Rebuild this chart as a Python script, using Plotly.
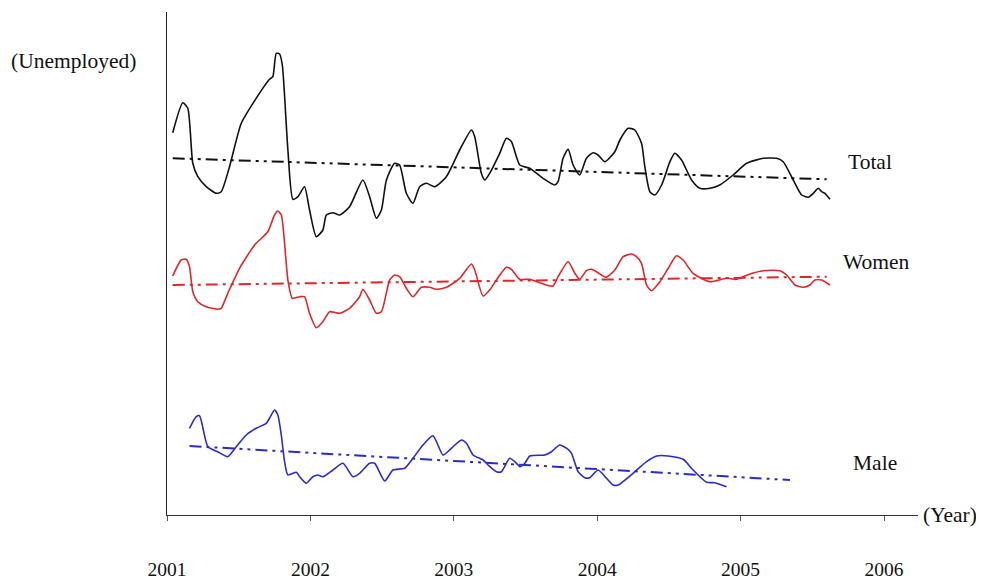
import plotly.graph_objects as go

# ---------------- data ----------------
total_x = [2001.040, 2001.110, 2001.145, 2001.180, 2001.215, 2001.274, 2001.343, 2001.378,
           2001.436, 2001.518, 2001.622, 2001.715, 2001.738, 2001.762, 2001.785, 2001.804,
           2001.843, 2001.878, 2001.913, 2001.959, 2001.994, 2002.041, 2002.087, 2002.111,
           2002.157, 2002.204, 2002.273, 2002.366, 2002.413, 2002.460, 2002.495, 2002.530,
           2002.587, 2002.622, 2002.669, 2002.715, 2002.762, 2002.809, 2002.867, 2002.948,
           2003.041, 2003.123, 2003.146, 2003.192, 2003.216, 2003.250, 2003.320, 2003.367,
           2003.402, 2003.460, 2003.530, 2003.622, 2003.704, 2003.727, 2003.762, 2003.797,
           2003.832, 2003.878, 2003.925, 2003.971, 2004.006, 2004.053, 2004.123, 2004.158,
           2004.216, 2004.262, 2004.309, 2004.332, 2004.367, 2004.402, 2004.449, 2004.507,
           2004.541, 2004.588, 2004.658, 2004.716, 2004.786, 2004.855, 2004.948, 2005.042,
           2005.158, 2005.251, 2005.297, 2005.367, 2005.426, 2005.472, 2005.507, 2005.541,
           2005.565, 2005.588, 2005.623]
total_y = [382.3, 412.3, 406.7, 351.7, 338.3, 328.3, 321.7, 323.3,
           348.3, 391.7, 416.7, 435.7, 438.3, 461.7, 461.0, 450.0,
           365.0, 315.7, 318.3, 328.3, 305.0, 278.3, 285.0, 300.0,
           302.3, 300.0, 308.3, 335.0, 318.3, 296.7, 305.0, 335.0,
           351.7, 350.0, 321.7, 311.7, 328.3, 331.7, 328.3, 338.3,
           365.0, 385.0, 378.3, 341.7, 335.0, 341.7, 361.7, 376.7,
           373.3, 350.0, 346.7, 336.7, 330.0, 333.3, 356.7, 365.7,
           350.0, 340.0, 356.7, 362.3, 360.0, 353.3, 363.3, 375.0,
           386.7, 385.0, 371.7, 348.3, 323.3, 320.0, 330.0, 353.3,
           361.7, 355.0, 335.0, 326.7, 326.7, 330.0, 340.0, 351.7,
           356.7, 356.7, 353.3, 335.0, 320.0, 317.7, 321.7, 326.7,
           323.3, 321.7, 315.7]

women_x = [2001.040, 2001.099, 2001.134, 2001.157, 2001.180, 2001.215, 2001.274, 2001.354,
           2001.378, 2001.424, 2001.506, 2001.611, 2001.703, 2001.750, 2001.773, 2001.797,
           2001.843, 2001.874, 2001.925, 2001.959, 2001.994, 2002.041, 2002.087, 2002.134,
           2002.204, 2002.273, 2002.343, 2002.366, 2002.413, 2002.460, 2002.495, 2002.553,
           2002.587, 2002.622, 2002.669, 2002.715, 2002.774, 2002.832, 2002.878, 2002.948,
           2003.041, 2003.123, 2003.146, 2003.204, 2003.250, 2003.297, 2003.367, 2003.402,
           2003.460, 2003.530, 2003.611, 2003.692, 2003.727, 2003.797, 2003.844, 2003.878,
           2003.925, 2003.960, 2004.006, 2004.060, 2004.123, 2004.181, 2004.239, 2004.274,
           2004.309, 2004.344, 2004.379, 2004.437, 2004.495, 2004.553, 2004.599, 2004.669,
           2004.786, 2004.902, 2004.972, 2005.065, 2005.158, 2005.274, 2005.321, 2005.379,
           2005.437, 2005.483, 2005.518, 2005.565, 2005.623]
women_y = [239.0, 255.0, 255.7, 248.3, 223.3, 213.3, 208.3, 205.7,
           206.7, 221.7, 246.7, 270.0, 283.3, 300.0, 304.0, 300.0,
           235.0, 216.7, 218.3, 218.3, 201.7, 187.3, 193.3, 203.3,
           201.7, 206.7, 218.3, 225.7, 215.0, 201.7, 203.3, 235.0,
           240.0, 238.3, 226.7, 218.3, 227.7, 227.7, 225.7, 227.7,
           236.7, 251.0, 245.0, 219.0, 225.0, 235.0, 247.7, 245.7,
           235.7, 235.7, 231.7, 229.0, 238.3, 253.3, 241.7, 235.7,
           244.3, 245.7, 242.3, 237.7, 245.0, 258.3, 261.0, 258.3,
           251.7, 230.0, 224.3, 233.3, 246.7, 259.3, 255.0, 241.7,
           233.3, 236.7, 235.7, 241.0, 244.3, 244.3, 240.0, 230.0,
           227.7, 230.0, 235.0, 235.0, 230.0]

male_x = [2001.157, 2001.204, 2001.227, 2001.285, 2001.354, 2001.424, 2001.483, 2001.553,
          2001.622, 2001.692, 2001.715, 2001.750, 2001.773, 2001.797, 2001.820, 2001.843,
          2001.902, 2001.925, 2001.971, 2002.017, 2002.052, 2002.087, 2002.157, 2002.227,
          2002.297, 2002.343, 2002.413, 2002.448, 2002.518, 2002.576, 2002.657, 2002.715,
          2002.785, 2002.855, 2002.925, 2002.983, 2003.053, 2003.088, 2003.134, 2003.204,
          2003.239, 2003.297, 2003.332, 2003.390, 2003.437, 2003.460, 2003.495, 2003.530,
          2003.634, 2003.681, 2003.739, 2003.797, 2003.821, 2003.867, 2003.913, 2003.948,
          2004.006, 2004.065, 2004.111, 2004.146, 2004.250, 2004.344, 2004.414, 2004.495,
          2004.599, 2004.669, 2004.763, 2004.820, 2004.902]
male_y = [86.7, 98.3, 99.3, 68.3, 63.3, 58.3, 68.3, 80.0,
          86.7, 91.7, 96.7, 105.0, 100.0, 80.0, 53.3, 40.0,
          42.7, 38.3, 31.7, 38.3, 40.0, 38.3, 45.0, 51.7,
          38.3, 41.7, 51.7, 51.7, 34.0, 45.0, 46.7, 56.7,
          70.0, 79.3, 60.0, 66.7, 75.0, 71.7, 60.0, 55.0,
          50.0, 43.3, 43.3, 56.7, 51.7, 48.3, 51.7, 59.0,
          60.0, 63.3, 70.0, 65.7, 61.7, 43.3, 37.3, 37.3,
          45.0, 36.7, 30.0, 30.0, 41.7, 53.3, 59.0, 59.0,
          55.7, 45.0, 32.7, 32.3, 28.3]

# linear trend lines (start / end)
total_trend_x = [2001.040, 2005.600]
total_trend_y = [356.7, 335.7]
women_trend_x = [2001.040, 2005.600]
women_trend_y = [230.0, 238.3]
male_trend_x = [2001.157, 2005.344]
male_trend_y = [69.0, 35.0]

year_ticks = [2001, 2002, 2003, 2004, 2005, 2006]
year_labels = ["2001", "2002", "2003", "2004", "2005", "2006"]

series_labels = ["Total", "Women", "Male"]

# ---------------- figure ----------------
FONT = "Liberation Serif, Times New Roman, serif"
BLACK = "#111111"
RED = "#e0262a"
BLUE = "#2a2ad0"
DASH = "12px,5px,3px,5px,3px,5px"

fig = go.Figure()

for xs, ys, c in [(total_x, total_y, BLACK), (women_x, women_y, RED), (male_x, male_y, BLUE)]:
    fig.add_trace(go.Scatter(x=xs, y=ys, mode="lines",
                             line=dict(color=c, width=1.6, shape="spline", smoothing=0.6),
                             hoverinfo="skip"))

for xs, ys, c in [(total_trend_x, total_trend_y, BLACK), (women_trend_x, women_trend_y, RED),
                  (male_trend_x, male_trend_y, BLUE)]:
    fig.add_trace(go.Scatter(x=xs, y=ys, mode="lines",
                             line=dict(color=c, width=2, dash=DASH),
                             hoverinfo="skip"))

# the page body adds an 8px offset; size the figure so the plot lands where the reference has it
fig.update_layout(
    width=976, height=571,
    margin=dict(l=159, r=66, t=4, b=64, autoexpand=False),
    paper_bgcolor="white", plot_bgcolor="white",
    showlegend=False,
    font=dict(family=FONT, color="#111111"),
    xaxis=dict(range=[2001, 2006.237], tickvals=year_ticks, ticktext=year_labels,
               showgrid=False, zeroline=False, showline=True, linecolor="#333333",
               linewidth=1.3, ticks="outside", ticklen=5, tickcolor="#555555",
               tickfont=dict(family=FONT, size=19.5, color="#111111"),
               ticklabelstandoff=31, automargin=False, fixedrange=True),
    yaxis=dict(range=[0, 503], showgrid=False, zeroline=False, showline=True,
               linecolor="#222222", linewidth=1.3, showticklabels=False, ticks="",
               automargin=False, fixedrange=True),
)

label_font = dict(family=FONT, size=21.5, color="#111111")
annots = [
    ("(Unemployed)", -0.1246, 0.9026, "center"),
    (series_labels[0], 0.936, 0.7018, "center"),
    (series_labels[1], 0.9454, 0.503, "center"),
    (series_labels[2], 0.9434, 0.1034, "center"),
    ("(Year)", 1.004, 0.0, "left"),
]
for text, ax, ay, anchor in annots:
    fig.add_annotation(text=text, x=ax, y=ay, xref="paper", yref="paper",
                       xanchor=anchor, yanchor="middle", showarrow=False, font=label_font)

fig.write_html("out.html")
